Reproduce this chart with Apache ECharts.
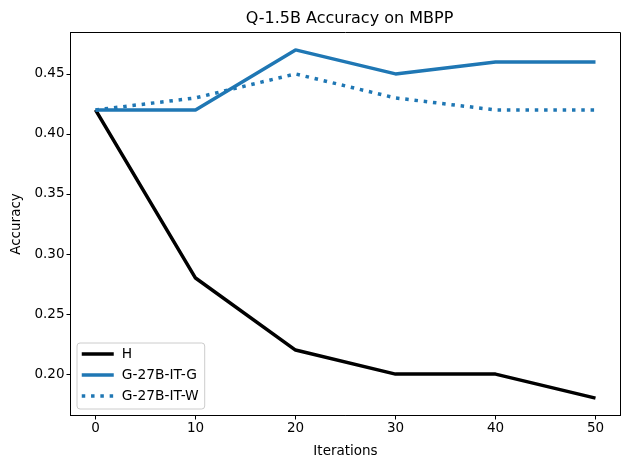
<!DOCTYPE html>
<html>
<head>
<meta charset="utf-8">
<script src="https://cdn.jsdelivr.net/npm/echarts@6/dist/echarts.min.js"></script>
<style>html,body{margin:0;padding:0;background:#fff;}#c{width:630px;height:470px;}</style>
</head>
<body>
<div id="c"></div>
<script>
const iterations = [0, 10, 20, 30, 40, 50];
const seriesH = [0.42, 0.28, 0.22, 0.20, 0.20, 0.18];
const seriesG = [0.42, 0.42, 0.47, 0.45, 0.46, 0.46];
const seriesW = [0.42, 0.43, 0.45, 0.43, 0.42, 0.42];
const xTicks = [0, 10, 20, 30, 40, 50];
const yTicks = [0.20, 0.25, 0.30, 0.35, 0.40, 0.45];

const font = 'DejaVu Sans';
const blue = '#1f77b4';
const pairs = arr => iterations.map((x, i) => [x, arr[i]]);

const chart = echarts.init(document.getElementById('c'), null, {renderer: 'canvas'});
chart.setOption({
  animation: false,
  backgroundColor: '#fff',
  title: {
    text: 'Q-1.5B Accuracy on MBPP',
    left: 344.5, top: 6, textAlign: 'center',
    textStyle: {fontFamily: font, fontSize: 16, fontWeight: 'normal', color: '#000'}
  },
  grid: {left: 70.5, right: 9.5, top: 32.5, bottom: 54.5, show: true, borderColor: '#000', borderWidth: 1, backgroundColor: 'transparent'},
  xAxis: {
    type: 'value', min: -2.5, max: 52.5,
    name: 'Iterations', nameLocation: 'middle', nameGap: 29,
    nameTextStyle: {fontFamily: font, fontSize: 13.5, color: '#000'},
    axisLine: {show: true, onZero: false, lineStyle: {color: '#000', width: 1}},
    axisTick: {show: true, length: 4, customValues: xTicks, lineStyle: {color: '#000'}},
    axisLabel: {customValues: xTicks, fontFamily: font, fontSize: 13.5, color: '#000', margin: 6},
    splitLine: {show: false}
  },
  yAxis: {
    type: 'value', min: 0.1655, max: 0.4845,
    name: 'Accuracy', nameLocation: 'middle', nameGap: 46,
    nameTextStyle: {fontFamily: font, fontSize: 13.5, color: '#000'},
    axisLine: {show: true, onZero: false, lineStyle: {color: '#000', width: 1}},
    axisTick: {show: true, length: 4, customValues: yTicks, lineStyle: {color: '#000'}},
    axisLabel: {customValues: yTicks, fontFamily: font, fontSize: 13.5, color: '#000', margin: 6,
      formatter: v => v.toFixed(2)},
    splitLine: {show: false}
  },
  legend: {
    orient: 'vertical', left: 77, top: 343,
    padding: [4, 6, 6, 3], itemGap: 7, itemWidth: 32, itemHeight: 14,
    backgroundColor: 'rgba(255,255,255,0.8)', borderColor: '#cccccc', borderWidth: 1, borderRadius: 3,
    textStyle: {fontFamily: font, fontSize: 13.8, color: '#000', padding: [0, 0, 0, 3]},
    itemStyle: {opacity: 0},
    lineStyle: {width: 3.5},
    data: ['H', 'G-27B-IT-G', 'G-27B-IT-W']
  },
  series: [
    {name: 'H', type: 'line', data: pairs(seriesH), symbol: 'none', color: '#000',
      lineStyle: {color: '#000', width: 3.5}},
    {name: 'G-27B-IT-G', type: 'line', data: pairs(seriesG), symbol: 'none', color: blue,
      lineStyle: {color: blue, width: 3.5}},
    {name: 'G-27B-IT-W', type: 'line', data: pairs(seriesW), symbol: 'none', color: blue,
      lineStyle: {color: blue, width: 3.5, type: [3.5, 5.8]}}
  ]
});
</script>
</body>
</html>
